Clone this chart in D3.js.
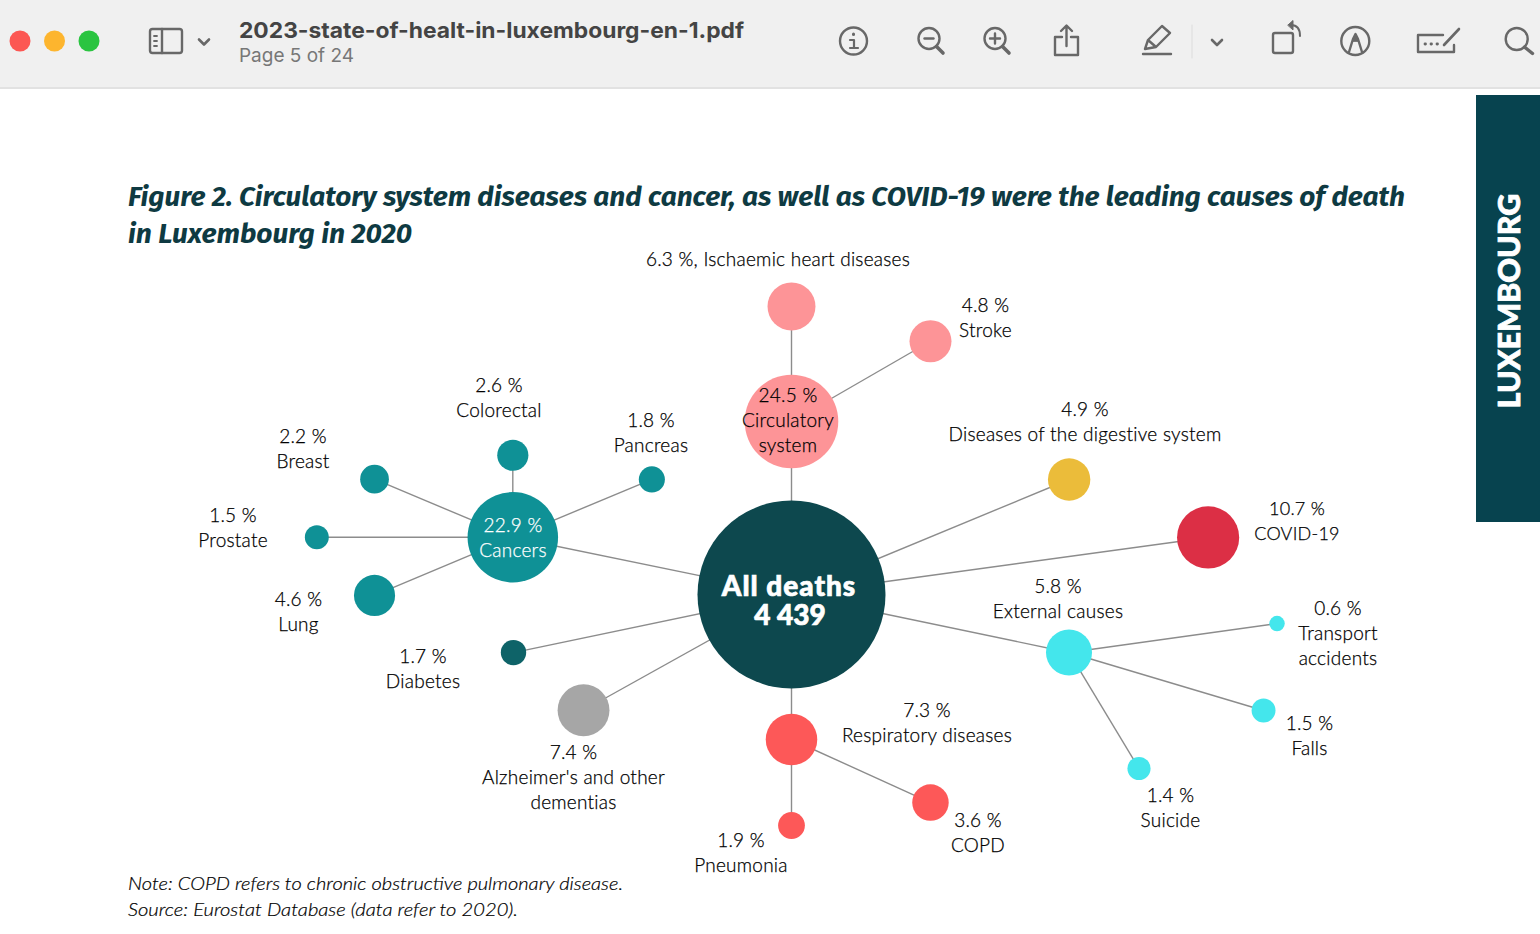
<!DOCTYPE html>
<html><head><meta charset="utf-8">
<script src="https://cdn.jsdelivr.net/npm/d3@7"></script>
<style>html,body{margin:0;padding:0;background:#fff;overflow:hidden}svg{display:block}</style>
</head><body><svg id="c" width="1540" height="934"></svg>
<script>
// ---- data ----
const causes = ["All deaths","Circulatory system","Ischaemic heart diseases","Stroke","Diseases of the digestive system","COVID-19","External causes","Transport accidents","Falls","Suicide","Respiratory diseases","COPD","Pneumonia","Alzheimer's and other dementias","Diabetes","Cancers","Colorectal","Pancreas","Breast","Prostate","Lung"];
const shares = [100,24.5,6.3,4.8,4.9,10.7,5.8,0.6,1.5,1.4,7.3,3.6,1.9,7.4,1.7,22.9,2.6,1.8,2.2,1.5,4.6];
const parents = [null,"All deaths","Circulatory system","Circulatory system","All deaths","All deaths","All deaths","External causes","External causes","External causes","All deaths","Respiratory diseases","Respiratory diseases","All deaths","All deaths","All deaths","Cancers","Cancers","Cancers","Cancers","Cancers"];
const groups = ["hub","circ","circ","circ","digest","covid","ext","ext","ext","ext","resp","resp","resp","alz","diab","canc","canc","canc","canc","canc","canc"];
const totalDeaths = "4 439";
const labelLines = [
 ["All deaths",totalDeaths],["24.5 %","Circulatory","system"],["6.3 %, Ischaemic heart diseases"],["4.8 %","Stroke"],["4.9 %","Diseases of the digestive system"],["10.7 %","COVID-19"],["5.8 %","External causes"],["0.6 %","Transport","accidents"],["1.5 %","Falls"],["1.4 %","Suicide"],["7.3 %","Respiratory diseases"],["3.6 %","COPD"],["1.9 %","Pneumonia"],["7.4 %","Alzheimer's and other","dementias"],["1.7 %","Diabetes"],["22.9 %","Cancers"],["2.6 %","Colorectal"],["1.8 %","Pancreas"],["2.2 %","Breast"],["1.5 %","Prostate"],["4.6 %","Lung"]];
const titleLines = ["Figure 2. Circulatory system diseases and cancer, as well as COVID-19 were the leading causes of death","in Luxembourg in 2020"];
const noteLines = ["Note: COPD refers to chronic obstructive pulmonary disease.","Source: Eurostat Database (data refer to 2020)."];
const fileName = "2023-state-of-healt-in-luxembourg-en-1.pdf", pageText = "Page 5 of 24", tabText = "LUXEMBOURG";

// ---- layout (spoke bearing in degrees clockwise from north, spoke length, label anchor) ----
const bearing = [0,0,0,60,67.5,82.2,101.8,82.1,106.6,148.9,180,114.4,180,-119.1,-101.8,-78.4,0,67.4,-67.2,-90,-112.8];
const reach = [0,173,115,160.5,300.5,420.5,283.5,210,203,135.5,145,152.6,86,238,284,284.5,82,150.6,150,196,150];
const labelX = [789,788,778,985.5,1085,1297,1058,1338,1309.5,1170.5,927,978,741,573.5,423,513,499,651,303,233,298.5];
const labelY = [586,395,259,305,409,508,586,608,723,795,710,820,840,752,656,525,385,420,436,515,599];
const lineStep = 25;
const palette = d3.scaleOrdinal(
  ["hub","circ","digest","covid","ext","resp","alz","diab","canc"],
  ["#0d484e","#fd9497","#ebbc3a","#dc2f45","#44e6ec","#fd5858","#a6a6a6","#0e6368","#0f9196"]);
const radius = d3.scaleSqrt().domain([0,100]).range([0,93.5]);
const labelFont = "Lato, 'Open Sans', sans-serif";

const svg = d3.select("#c");
// ---- window chrome ----
svg.append("rect").attr("width",1540).attr("height",87).attr("fill","#f0f0f0");
svg.append("rect").attr("y",87).attr("width",1540).attr("height",2).attr("fill","#e2e2e2");
[["#fc5753",20],["#fdb52e",54.5],["#2ac440",89]].forEach(([c,x])=>svg.append("circle").attr("cx",x).attr("cy",41).attr("r",10.5).attr("fill",c));
svg.append("text").text(fileName).attr("x",239).attr("y",38).attr("font-family","Inter, Roboto, sans-serif").attr("font-weight",700).attr("font-size",22).attr("fill","#444").attr("textLength",505).attr("lengthAdjust","spacingAndGlyphs");
svg.append("text").text(pageText).attr("x",239).attr("y",62).attr("font-family","Inter, Roboto, sans-serif").attr("font-size",19).attr("fill","#777").attr("textLength",115).attr("lengthAdjust","spacingAndGlyphs");
const icons = svg.append("g").attr("fill","none").attr("stroke","#686868").attr("stroke-width",2.4).attr("stroke-linecap","round").attr("stroke-linejoin","round");
const icon = (d,w) => icons.append("path").attr("d",d).attr("stroke-width",w||2.4);
const ring = (x,y,r) => icons.append("circle").attr("cx",x).attr("cy",y).attr("r",r);
const solid = d => icons.append("path").attr("d",d).attr("fill","#686868").attr("stroke-width",1);
icons.append("rect").attr("x",150).attr("y",29).attr("width",32).attr("height",24).attr("rx",2.5);
icon("M162 29V53"); icon("M154 36h3M154 41h3M154 46h3",1.8);
icon("M199 39.5l5 5 5-5",2.6);
ring(853.5,41,13.5); icon("M853.5 34v.5",3); icon("M850 40h4v8M850 48h8",2.2);
ring(929,38.5,10.5); icon("M936.5 46.5l6.5 6.5",3.6); icon("M924.5 38.5h9");
ring(995,38.5,10.5); icon("M1002.5 46.5l6.5 6.5",3.6); icon("M990 38.5h10M995 33.5v10");
icon("M1062 37h-7v18h23V37h-7"); icon("M1066.5 46V26M1061 31l5.5-5.5 5.5 5.5");
icon("M1143 54h28"); icon("M1145 49l3-9 14-14 8 7-14 14zM1148 40l8 7");
icons.append("path").attr("d","M1192 25V58").attr("stroke","#dcdcdc").attr("stroke-width",1);
icon("M1212 40l5 5 5-5",2.6);
icons.append("rect").attr("x",1273).attr("y",33).attr("width",20).attr("height",20).attr("rx",2);
icon("M1300 36c0-7-3-11-9-11",2); solid("M1288 25l5-4.5v9z");
ring(1355.3,41,14); icon("M1349 52l4-13 2.5-5 2.5 5 4 13"); solid("M1352.5 41l3-7 3 7z");
icon("M1443 35h-25v17h36V45"); icon("M1425 44h.5M1431 44h.5M1437 44h.5",2.8); icon("M1444 45l15-16",2.6);
ring(1516.7,39,11); icon("M1524.5 47l8 6.5",3.4);

// ---- side tab ----
svg.append("rect").attr("x",1476).attr("y",95).attr("width",64).attr("height",427).attr("fill","#07434f");
svg.append("text").text(tabText).attr("transform","translate(1520,408.5) rotate(-90)")
  .attr("font-family","Lato, sans-serif").attr("font-weight",900).attr("font-size",31).attr("fill","#fff")
  .attr("stroke","#fff").attr("stroke-width",0.8)
  .attr("textLength",215).attr("lengthAdjust","spacingAndGlyphs");

// ---- title and notes ----
svg.append("g").selectAll("text").data(titleLines).join("text").text(d=>d)
  .attr("x",128).attr("y",(d,i)=>206+i*37)
  .attr("font-family","'Fira Sans','Noto Sans',sans-serif").attr("font-weight",700).attr("font-style","italic")
  .attr("font-size",28).attr("fill","#0e3a42")
  .attr("textLength",(d,i)=>[1277,284][i]).attr("lengthAdjust","spacingAndGlyphs");
svg.append("g").selectAll("text").data(noteLines).join("text").text(d=>d)
  .attr("x",128).attr("y",(d,i)=>890+i*26)
  .attr("font-family",labelFont).attr("font-style","italic").attr("font-weight",300).attr("font-size",18.5).attr("fill","#000")
  .attr("stroke","#000").attr("stroke-width",0.2)
  .attr("textLength",(d,i)=>[495,390][i]).attr("lengthAdjust","spacingAndGlyphs");

// ---- spoke layout from the hub ----
const hub = [791.5,594.5];
const pos = new Map();
causes.forEach((c,i)=>{
  const base = parents[i] ? pos.get(parents[i]) : hub;
  const [dx,dy] = d3.pointRadial(bearing[i]*Math.PI/180, reach[i]);
  pos.set(c,[base[0]+dx, base[1]+dy]);
});
const nodes = causes.map((c,i)=>({name:c,share:shares[i],parent:parents[i],group:groups[i],lines:labelLines[i],lx:labelX[i],ly:labelY[i],p:pos.get(c)}));

svg.append("g").selectAll("line").data(nodes.filter(d=>d.parent)).join("line")
  .attr("x1",d=>pos.get(d.parent)[0]).attr("y1",d=>pos.get(d.parent)[1])
  .attr("x2",d=>d.p[0]).attr("y2",d=>d.p[1])
  .attr("stroke","#8c8c8c").attr("stroke-width",1.4);
svg.append("g").selectAll("circle").data(nodes).join("circle")
  .attr("cx",d=>d.p[0]).attr("cy",d=>d.p[1]).attr("r",d=>radius(d.share)+0.5)
  .attr("fill",d=>palette(d.group));

// ---- labels ----
const lab = svg.append("g").attr("text-anchor","middle");
nodes.forEach(d=>{
  if (d.group==="hub") {
    const t = lab.append("text").attr("font-family","Lato, sans-serif").attr("font-weight",900).attr("font-size",28)
      .attr("fill","#fff").attr("stroke","#fff").attr("stroke-width",0.7);
    t.append("tspan").text(d.lines[0]).attr("x",d.lx).attr("y",d.ly+10).attr("letter-spacing",1);
    t.append("tspan").text(d.lines[1]).attr("x",d.lx+1).attr("y",d.ly+39);
    return;
  }
  const inv = d.name==="Cancers";
  const ink = inv?"#fff":"#000";
  lab.selectAll(null).data(d.lines).join("text").text(t=>t)
    .attr("x",d.lx).attr("y",(t,i)=>d.ly+6.5+i*lineStep)
    .attr("font-family",labelFont).attr("font-weight",300).attr("letter-spacing",0.25)
    .attr("font-size",d.name==="COVID-19"?18:19)
    .attr("fill",ink).attr("stroke",ink).attr("stroke-width",0.25);
});
</script></body></html>
